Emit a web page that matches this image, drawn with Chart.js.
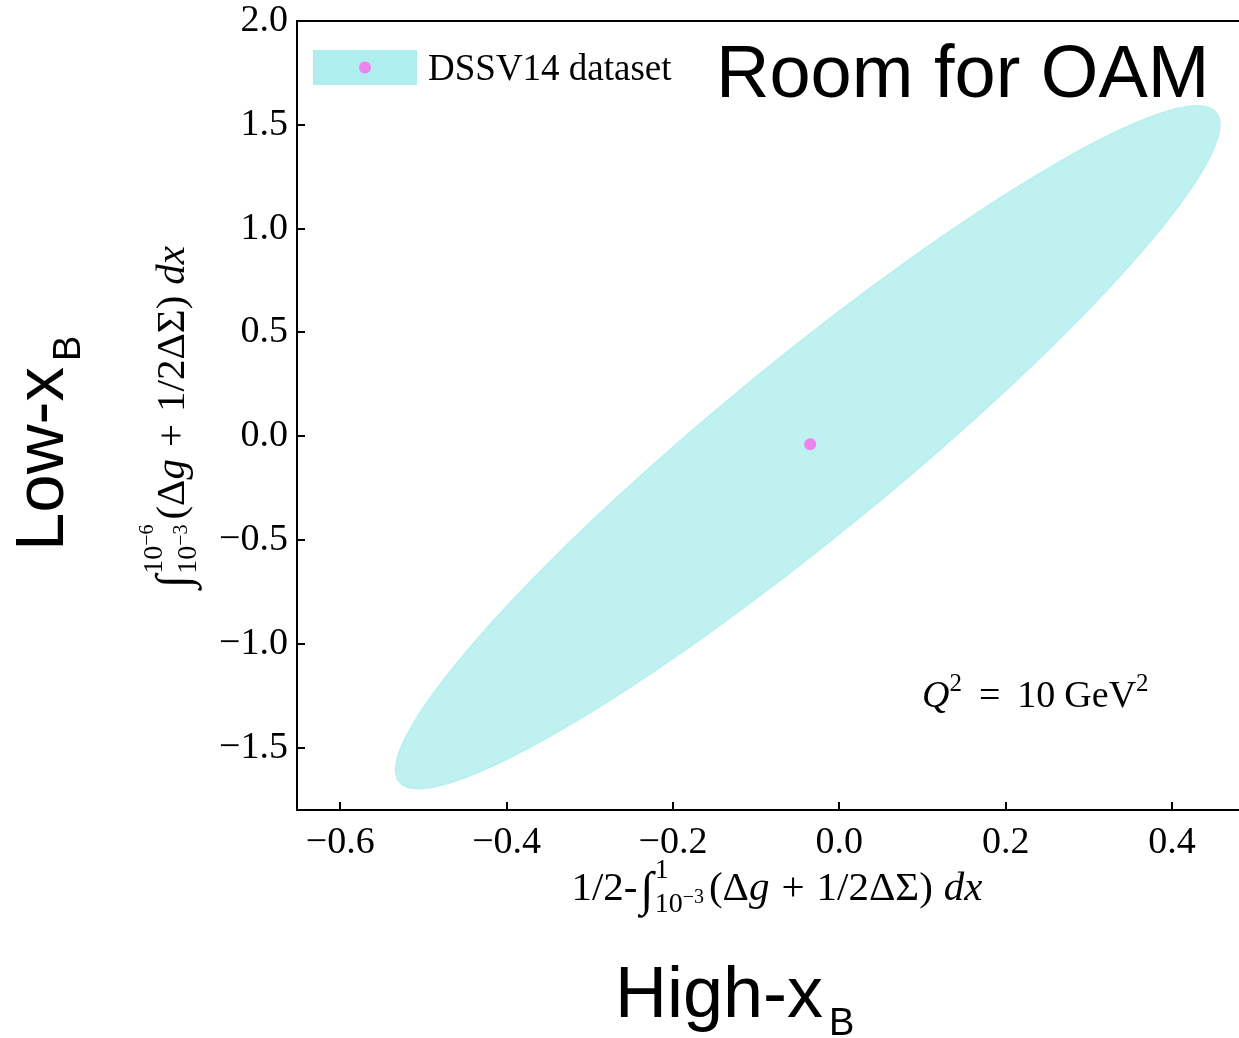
<!DOCTYPE html>
<html><head><meta charset="utf-8">
<script src="https://cdn.jsdelivr.net/npm/chart.js@4.4.1/dist/chart.umd.min.js"></script>
<style>html,body{margin:0;padding:0;background:#fff;} #wrap{width:1239px;height:1038px;position:relative;overflow:hidden}</style>
</head><body><div id="wrap"><canvas id="c" width="1239" height="1038"></canvas></div>
<script>
// ---- data ----
const xRange = [-0.652, 0.4805];
const yRange = [-1.8, 2.0];
const xTickValues = [-0.6, -0.4, -0.2, 0.0, 0.2, 0.4];
const yTickValues = [-1.5, -1.0, -0.5, 0.0, 0.5, 1.0, 1.5, 2.0];
const ellipseCenter = [-0.038, -0.053];
const ellipseMajorTip = [0.453, 1.559];
const ellipseMinorTip = [0.029, -0.377];
const centralValue = [-0.035, -0.038];
const seriesLabel = 'DSSV14 dataset';
const annotationText = 'Room for OAM';
const leftBigLabel = 'Low-x';
const bottomBigLabel = 'High-x';
const bigLabelSub = 'B';

const SERIF = '"Liberation Serif","Times New Roman",serif';
const SANS = '"Liberation Sans",Arial,sans-serif';
const FILL = 'rgba(175,238,238,0.8)';

function fmt(v){ const s = Number(v).toFixed(1); return s.startsWith('-') ? '\u2212' + s.slice(1) : s; }

function fontOf(s, base){ return (s.it ? 'italic ' : '') + (s.sz || base) + 'px ' + (s.fam || SERIF); }
function measure(ctx, segs, base){
  let w = 0;
  for (const s of segs){
    if (s.stack){ w += Math.max(...s.stack.map(l => measure(ctx, l, base))) + (s.sp || 0); }
    else { ctx.font = fontOf(s, base); w += ctx.measureText(s.t).width + (s.sp || 0); }
  }
  return w;
}
function drawSegs(ctx, segs, x, y, base){
  for (const s of segs){
    if (s.stack){
      let m = 0;
      for (const l of s.stack){ drawSegs(ctx, l, x, y, base); m = Math.max(m, measure(ctx, l, base)); }
      x += m + (s.sp || 0);
    } else {
      ctx.font = fontOf(s, base);
      ctx.fillText(s.t, x, y + (s.dy || 0));
      x += ctx.measureText(s.t).width + (s.sp || 0);
    }
  }
  return x;
}
function drawCentered(ctx, segs, cx, y, base){
  const w = measure(ctx, segs, base);
  drawSegs(ctx, segs, cx - w/2, y, base);
}

const xTitle = [
  {t:'1/2-', sp:3},
  {t:'\u222B', sz:48, dy:5, it:true, sp:1},
  {stack:[[{t:'1', sz:28, dy:-22}], [{t:'10', sz:28, dy:12}, {t:'\u22123', sz:20, dy:3}]], sp:5},
  {t:'(\u0394'}, {t:'g', it:true, sp:12}, {t:'+', sp:12}, {t:'1/2\u0394\u03A3)', sp:11}, {t:'dx', it:true}
];
const yTitle = [
  {t:'\u222B', sz:48, dy:5, it:true, sp:1},
  {stack:[[{t:'10', sz:28, dy:-22}, {t:'\u22126', sz:20, dy:-31}], [{t:'10', sz:28, dy:12}, {t:'\u22123', sz:20, dy:3}]], sp:5},
  {t:'(\u0394'}, {t:'g', it:true, sp:12}, {t:'+', sp:12}, {t:'1/2\u0394\u03A3)', sp:11}, {t:'dx', it:true}
];
const qText = [
  {t:'Q', it:true}, {t:'2', sz:25, dy:-16, sp:17}, {t:'=', sp:17}, {t:'10', sp:9}, {t:'GeV'}, {t:'2', sz:25, dy:-16}
];

const ellipsePlugin = {
  id:'ellipse',
  beforeDatasetsDraw(chart){
    const {ctx, chartArea:a, scales:{x, y}} = chart;
    const cx = x.getPixelForValue(ellipseCenter[0]), cy = y.getPixelForValue(ellipseCenter[1]);
    const ax = x.getPixelForValue(ellipseMajorTip[0]) - cx, ay = y.getPixelForValue(ellipseMajorTip[1]) - cy;
    const bx = x.getPixelForValue(ellipseMinorTip[0]) - cx, by = y.getPixelForValue(ellipseMinorTip[1]) - cy;
    ctx.save();
    ctx.beginPath(); ctx.rect(a.left, a.top, a.right - a.left, a.bottom - a.top); ctx.clip();
    ctx.save();
    ctx.transform(ax, ay, bx, by, cx, cy);
    ctx.beginPath(); ctx.arc(0, 0, 1, 0, Math.PI * 2); ctx.closePath();
    ctx.restore();
    ctx.fillStyle = FILL; ctx.fill();
    ctx.lineWidth = 1.5; ctx.strokeStyle = FILL; ctx.stroke();
    ctx.restore();
  }
};

const decorPlugin = {
  id:'decor',
  afterDraw(chart){
    const {ctx, chartArea:a, scales:{x, y}} = chart;
    ctx.save();
    ctx.strokeStyle = '#000'; ctx.lineWidth = 2;
    // top spine
    ctx.beginPath(); ctx.moveTo(a.left - 1, a.top); ctx.lineTo(chart.width, a.top); ctx.stroke();
    // inward ticks
    ctx.beginPath();
    for (const v of xTickValues){ const p = Math.round(x.getPixelForValue(v)); ctx.moveTo(p, a.bottom); ctx.lineTo(p, a.bottom - 8); }
    for (const v of yTickValues){ const p = Math.round(y.getPixelForValue(v)); ctx.moveTo(a.left, p); ctx.lineTo(a.left + 8, p); }
    ctx.stroke();

    // legend
    const lx = a.left + 16, ly = a.top + 29;
    ctx.fillStyle = '#afeeee'; ctx.fillRect(lx, ly, 104, 35);
    ctx.fillStyle = '#ee82ee'; ctx.beginPath(); ctx.arc(lx + 52, ly + 17.5, 6, 0, Math.PI*2); ctx.fill();
    ctx.fillStyle = '#000'; ctx.textBaseline = 'alphabetic'; ctx.textAlign = 'left';
    ctx.font = '37px ' + SERIF; ctx.fillText(seriesLabel, lx + 115, ly + 30);

    // Room for OAM
    ctx.font = '74px ' + SANS; ctx.fillText(annotationText, 716, 97);

    // Q^2 annotation
    drawSegs(ctx, qText, 922, 707, 38);

    // x axis title
    drawCentered(ctx, xTitle, 777, 900, 41);

    // y axis title (rotated)
    ctx.save(); ctx.translate(184, 417); ctx.rotate(-Math.PI/2);
    drawCentered(ctx, yTitle, 0, 0, 41);
    ctx.restore();

    // big labels
    ctx.font = '72px ' + SANS;
    const hw = ctx.measureText(bottomBigLabel).width;
    ctx.fillText(bottomBigLabel, 615, 1017);
    ctx.font = '38px ' + SANS; ctx.fillText(bigLabelSub, 615 + hw + 6, 1035);

    ctx.save(); ctx.translate(63, 551); ctx.rotate(-Math.PI/2);
    ctx.font = '69px ' + SANS;
    const lw = ctx.measureText(leftBigLabel).width;
    ctx.fillText(leftBigLabel, 0, 0);
    ctx.font = '38px ' + SANS; ctx.fillText(bigLabelSub, lw + 6, 17);
    ctx.restore();

    ctx.restore();
  }
};

new Chart(document.getElementById('c'), {
  type:'scatter',
  data:{ datasets:[{
    label: seriesLabel,
    data:[{x:centralValue[0], y:centralValue[1]}],
    pointRadius:6, pointHoverRadius:6, pointBackgroundColor:'#ee82ee', pointBorderWidth:0
  }]},
  options:{
    responsive:false, animation:false, devicePixelRatio:1,
    layout:{autoPadding:false, padding:{left:0, top:21, right:0, bottom:0}},
    plugins:{legend:{display:false}, tooltip:{enabled:false}},
    scales:{
      x:{
        type:'linear', min:xRange[0], max:xRange[1],
        afterBuildTicks(s){ s.ticks = xTickValues.map(v => ({value:v})); },
        afterFit(s){ s.height = 228; s.paddingLeft = 0; s.paddingRight = 0; },
        grid:{display:true, drawOnChartArea:false, drawTicks:false},
        border:{display:true, color:'#000', width:2},
        ticks:{font:{family:SERIF, size:38}, color:'#000', padding:10, callback:fmt, maxRotation:0, autoSkip:false}
      },
      y:{
        type:'linear', min:yRange[0], max:yRange[1],
        afterBuildTicks(s){ s.ticks = yTickValues.map(v => ({value:v})); },
        afterFit(s){ s.width = 297; s.paddingTop = 0; s.paddingBottom = 0; },
        grid:{display:true, drawOnChartArea:false, drawTicks:false},
        border:{display:true, color:'#000', width:2},
        ticks:{font:{family:SERIF, size:38}, color:'#000', padding:9, callback:fmt, autoSkip:false}
      }
    }
  },
  plugins:[ellipsePlugin, decorPlugin]
});
</script></body></html>
